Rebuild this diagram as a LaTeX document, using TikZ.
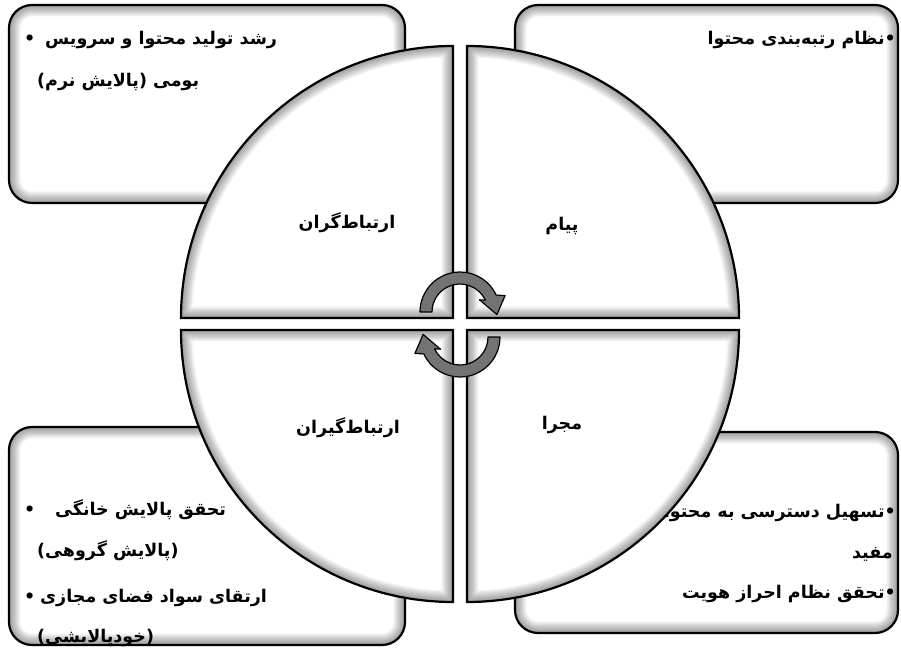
\documentclass[tikz,border=0pt]{standalone}
\usepackage{fontspec}
\newfontfamily\farsi[Script=Arabic]{DejaVu Sans}
\TeXXeTstate=1

% one quarter of the circle: corner, start angle, end angle
\newcommand\robe[3]{(#1) -- ++(#2:272pt) arc[start angle=#2, end angle=#3, radius=272pt] -- cycle}

\tikzset{
  saye/.style   ={path picture={
                    \foreach \i in {1,...,10}
                      \draw[line width=2.3*\i pt, black, opacity=0.042, rounded corners=23pt]
                        (path picture bounding box.south west) rectangle (path picture bounding box.north east);}},
  kadr/.style   ={draw=black, fill=white, line width=2.2pt, rounded corners=23pt, saye},
  matn/.style   ={font=\farsi\bfseries\fontsize{17.5}{21}\selectfont, inner sep=0pt},
  barchasb/.style={matn},
  peykan/.style ={fill=black!55, draw=black, line width=1.2pt, line join=round}
}

\begin{document}
\begin{tikzpicture}[x=1pt, y=1pt]
  \useasboundingbox (0,0) rectangle (901,659);

  % --- four boxes ---------------------------------------------------------
  \node[kadr, minimum width=396pt, minimum height=198pt] (k1) at (207,555) {};
  \node[kadr, minimum width=383pt, minimum height=198pt] (k2) at (706.5,555) {};
  \node[kadr, minimum width=396pt, minimum height=218pt] (k3) at (207,123) {};
  \node[kadr, minimum width=383pt, minimum height=201pt] (k4) at (706.5,126.5) {};

  % --- box texts ------------------------------------------------------------
  \node[matn, anchor=base west] (tlb) at (24,614) {•};
  \node[matn, anchor=base west] (tl1) at (45,614) {\beginR رشد تولید محتوا و سرویس\endR};
  \node[matn, anchor=base west] (tl2) at (37,572) {\beginR بومی (پالایش نرم)\endR};

  \node[matn, anchor=base east] (tr1) at (896,614) {\beginR •نظام رتبه‌بندی محتوا\endR};

  \node[matn, anchor=base east] (br1) at (896,142) {\beginR •تسهیل دسترسی به محتوای\endR};
  \node[matn, anchor=base east] (br2) at (893,101) {\beginR مفید\endR};
  \node[matn, anchor=base east] (br3) at (896,61) {\beginR •تحقق نظام احراز هویت\endR};

  \node[matn, anchor=base west] (blb1) at (24,144) {•};
  \node[matn, anchor=base west] (bl1) at (55,144) {\beginR تحقق پالایش خانگی\endR};
  \node[matn, anchor=base west] (bl2) at (37,103) {\beginR (پالایش گروهی)\endR};
  \node[matn, anchor=base west] (blb2) at (24,57) {•};
  \node[matn, anchor=base west] (bl3) at (40,57) {\beginR ارتقای سواد فضای مجازی\endR};
  \node[matn, anchor=base west] (bl4) at (37,17) {\beginR (خودپالایشی)\endR};

  % --- circle in four parts -------------------------------------------------
  \foreach \cx/\cy/\a/\b in {453/341/180/90, 467/341/0/90, 453/329/180/270, 467/329/0/-90}{
    \begin{scope}
      \clip \robe{\cx,\cy}{\a}{\b};
      \fill[white] \robe{\cx,\cy}{\a}{\b};
      \foreach \i in {1,...,10}
        \draw[line width=2.3*\i pt, black, opacity=0.042] \robe{\cx,\cy}{\a}{\b};
    \end{scope}
    \draw[line width=2.2pt] \robe{\cx,\cy}{\a}{\b};
  }

  \node[barchasb] (q1) at (347,436) {\beginR ارتباط‌گران\endR};
  \node[barchasb] (q2) at (562,433) {\beginR پیام\endR};
  \node[barchasb] (q3) at (348,231) {\beginR ارتباط‌گیران\endR};
  \node[barchasb] (q4) at (562,234) {\beginR مجرا\endR};

  % --- turning arrows -------------------------------------------------------
  \begin{scope}[shift={(460,347)}]
    \filldraw[peykan] (180:40) arc[start angle=180, end angle=25, radius=40]
      -- (20:48) -- (-4:37) -- (32:23) -- (25:28) arc[start angle=25, end angle=180, radius=28] -- cycle;
  \end{scope}
  \begin{scope}[shift={(460,322)}, rotate=180]
    \filldraw[peykan] (180:40) arc[start angle=180, end angle=25, radius=40]
      -- (20:48) -- (-4:37) -- (32:23) -- (25:28) arc[start angle=25, end angle=180, radius=28] -- cycle;
  \end{scope}
\end{tikzpicture}
\end{document}
